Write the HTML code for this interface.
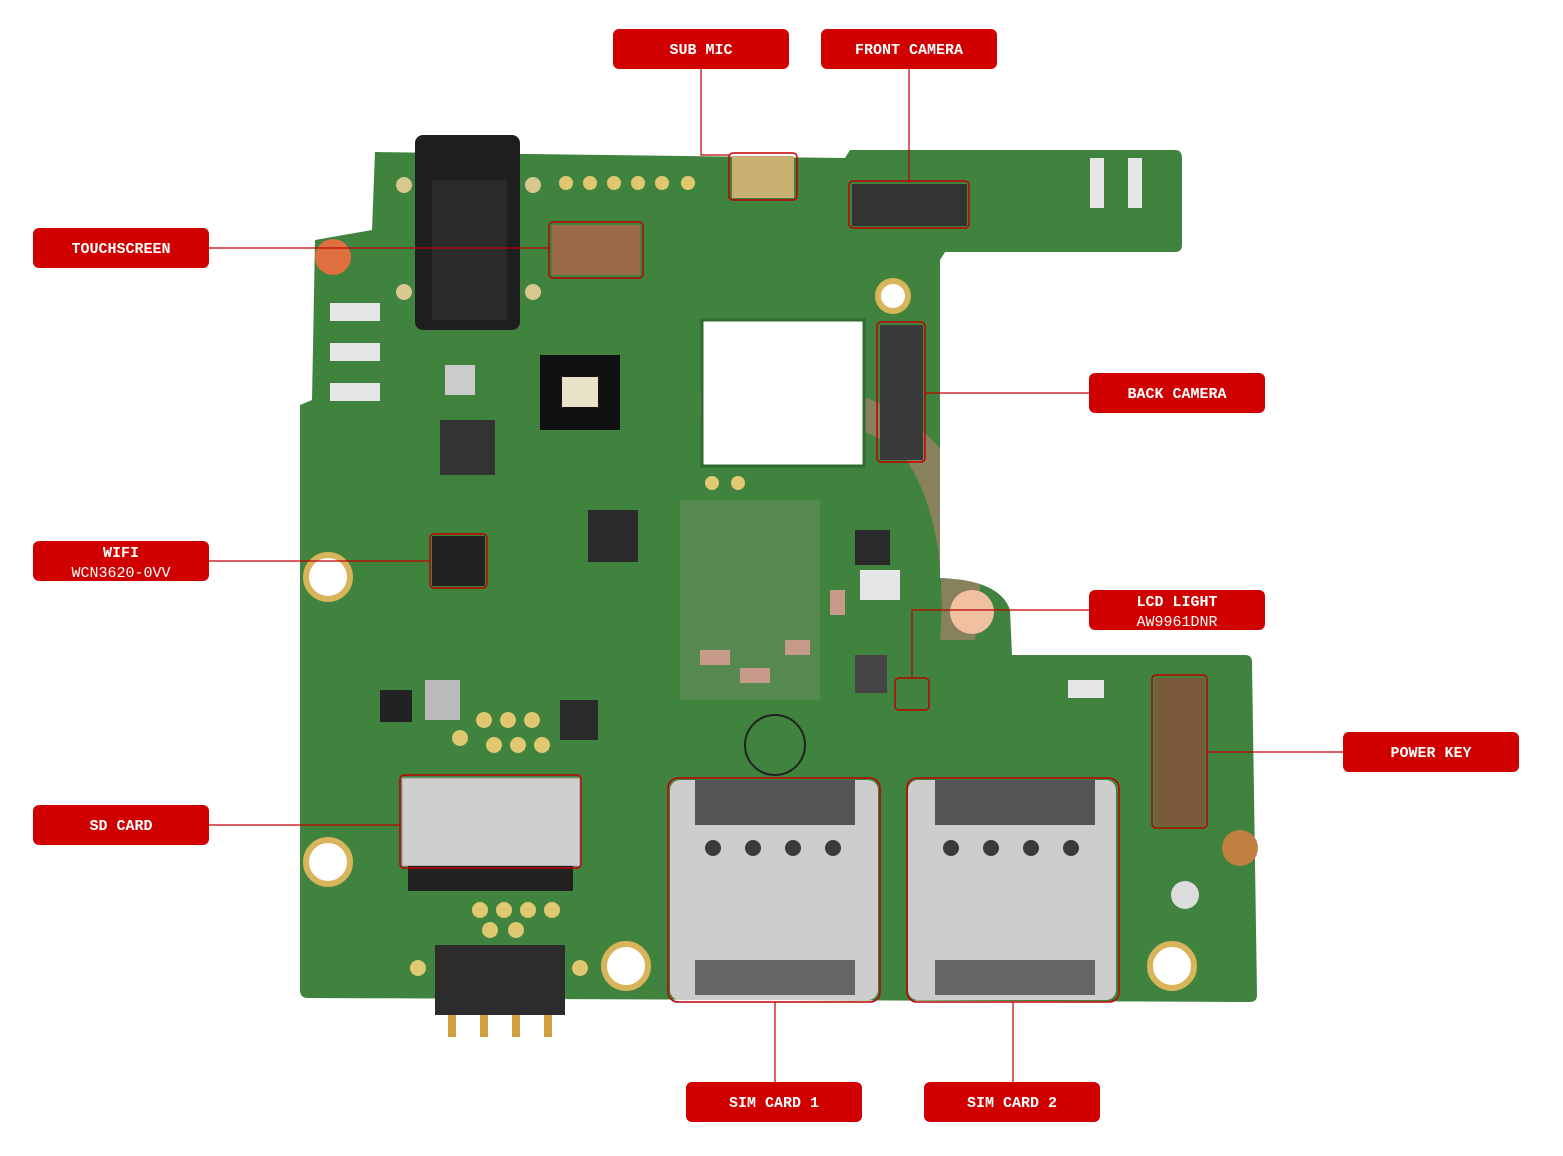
<!DOCTYPE html>
<html><head><meta charset="utf-8"><style>
html,body{margin:0;padding:0;background:#fff;}
svg{display:block;}
.lb{font-family:"Liberation Mono","DejaVu Sans Mono",monospace;font-weight:bold;font-size:15px;fill:#fff;text-anchor:middle;}
</style></head><body>
<svg width="1563" height="1156" viewBox="0 0 1563 1156" xmlns="http://www.w3.org/2000/svg">
<defs><clipPath id="bc"><path id="bp" d="M375,152 L845,158 L850,150 L1175,150 Q1182,150 1182,158 L1182,245 Q1182,252 1175,252 L945,252 L940,260 L940,578 Q1000,580 1010,610 L1012,655 L1245,655 Q1252,655 1252,662 L1257,995 Q1257,1002 1250,1002 L308,998 Q300,998 300,990 L300,405 L312,400 L315,240 L372,230 Z"/></clipPath></defs>
<!-- board -->
<path d="M375,152 L845,158 L850,150 L1175,150 Q1182,150 1182,158 L1182,245 Q1182,252 1175,252 L945,252 L940,260 L940,578 Q1000,580 1010,610 L1012,655 L1245,655 Q1252,655 1252,662 L1257,995 Q1257,1002 1250,1002 L308,998 Q300,998 300,990 L300,405 L312,400 L315,240 L372,230 Z" fill="#3f833f"/>
<!-- watermark -->
<path clip-path="url(#bc)" d="M700,390 Q900,360 960,480 Q990,560 975,640 L940,640 Q950,520 900,450 Q820,400 700,420Z" fill="#e08080" opacity=".45"/>
<!-- camera hole -->
<rect x="702" y="320" width="162" height="146" fill="#fff" stroke="#2f6a30" stroke-width="3"/>
<!-- headphone jack -->
<rect x="415" y="135" width="105" height="195" rx="8" fill="#1e1e1e"/>
<rect x="432" y="180" width="75" height="140" fill="#2b2b2b"/>
<g fill="#d8c890"><circle cx="404" cy="185" r="8"/><circle cx="404" cy="292" r="8"/><circle cx="533" cy="185" r="8"/><circle cx="533" cy="292" r="8"/></g>
<g fill="#e0c870"><circle cx="566" cy="183" r="7"/><circle cx="590" cy="183" r="7"/><circle cx="614" cy="183" r="7"/><circle cx="638" cy="183" r="7"/><circle cx="662" cy="183" r="7"/><circle cx="688" cy="183" r="7"/>
<circle cx="712" cy="483" r="7"/><circle cx="738" cy="483" r="7"/>
<circle cx="484" cy="720" r="8"/><circle cx="508" cy="720" r="8"/><circle cx="532" cy="720" r="8"/><circle cx="460" cy="738" r="8"/><circle cx="494" cy="745" r="8"/><circle cx="518" cy="745" r="8"/><circle cx="542" cy="745" r="8"/>
<circle cx="480" cy="910" r="8"/><circle cx="504" cy="910" r="8"/><circle cx="528" cy="910" r="8"/><circle cx="552" cy="910" r="8"/><circle cx="490" cy="930" r="8"/><circle cx="516" cy="930" r="8"/>
<circle cx="418" cy="968" r="8"/><circle cx="580" cy="968" r="8"/></g>
<!-- small white pads -->
<g fill="#e6e6e6"><rect x="330" y="303" width="50" height="18"/><rect x="330" y="343" width="50" height="18"/><rect x="330" y="383" width="50" height="18"/>
<rect x="1090" y="158" width="14" height="50"/><rect x="1128" y="158" width="14" height="50"/>
<rect x="860" y="570" width="40" height="30"/><rect x="1068" y="680" width="36" height="18"/></g>
<!-- flash -->
<rect x="540" y="355" width="80" height="75" fill="#111"/>
<rect x="562" y="377" width="36" height="30" fill="#e8e2c8"/>
<!-- chips -->
<rect x="440" y="420" width="55" height="55" fill="#333"/>
<rect x="588" y="510" width="50" height="52" fill="#2a2a2a"/>
<rect x="432" y="536" width="53" height="50" fill="#222"/>
<rect x="855" y="530" width="35" height="35" fill="#2a2a2a"/>
<rect x="855" y="655" width="32" height="38" fill="#444"/>
<rect x="560" y="700" width="38" height="40" fill="#2a2a2a"/>
<rect x="380" y="690" width="32" height="32" fill="#222"/>
<rect x="425" y="680" width="35" height="40" fill="#bbb"/>
<rect x="445" y="365" width="30" height="30" fill="#ccc"/>
<rect x="680" y="500" width="140" height="200" fill="#6d9060" opacity=".5"/>
<g fill="#c89a8a"><rect x="700" y="650" width="30" height="15"/><rect x="740" y="668" width="30" height="15"/><rect x="785" y="640" width="25" height="15"/><rect x="830" y="590" width="15" height="25"/></g>
<!-- connectors -->
<rect x="852" y="184" width="115" height="42" fill="#333"/>
<rect x="880" y="325" width="43" height="135" fill="#3a3a3a"/>
<rect x="552" y="225" width="88" height="50" fill="#9a6a4a"/>
<rect x="1155" y="678" width="50" height="148" fill="#7a5a3a"/>
<rect x="732" y="156" width="62" height="42" fill="#c8b070"/>
<!-- SD card -->
<rect x="402" y="778" width="178" height="88" fill="#cfcfcf" stroke="#999"/>
<rect x="408" y="866" width="165" height="25" fill="#222"/>
<!-- SIM trays -->
<rect x="670" y="780" width="208" height="220" rx="10" fill="#cdcdcd"/>
<rect x="908" y="780" width="208" height="220" rx="10" fill="#cdcdcd"/>
<rect x="695" y="780" width="160" height="45" fill="#555"/>
<rect x="935" y="780" width="160" height="45" fill="#555"/>
<rect x="695" y="960" width="160" height="35" fill="#666"/>
<rect x="935" y="960" width="160" height="35" fill="#666"/>
<g fill="#3a3a3a"><circle cx="713" cy="848" r="8"/><circle cx="753" cy="848" r="8"/><circle cx="793" cy="848" r="8"/><circle cx="833" cy="848" r="8"/>
<circle cx="951" cy="848" r="8"/><circle cx="991" cy="848" r="8"/><circle cx="1031" cy="848" r="8"/><circle cx="1071" cy="848" r="8"/></g>
<circle cx="775" cy="745" r="30" fill="none" stroke="#222" stroke-width="2"/>
<!-- battery connector -->
<rect x="435" y="945" width="130" height="70" fill="#2c2c2c"/>
<g fill="#d0a040"><rect x="448" y="1015" width="8" height="22"/><rect x="480" y="1015" width="8" height="22"/><rect x="512" y="1015" width="8" height="22"/><rect x="544" y="1015" width="8" height="22"/></g>
<!-- holes -->
<g fill="#fff" stroke="#d8b45a" stroke-width="6">
<circle cx="328" cy="577" r="22"/><circle cx="328" cy="862" r="22"/>
<circle cx="626" cy="966" r="22"/><circle cx="1172" cy="966" r="22"/>
<circle cx="893" cy="296" r="15"/>
</g>
<circle cx="1185" cy="895" r="14" fill="#ddd"/>
<circle cx="333" cy="257" r="18" fill="#e07040"/>
<circle cx="972" cy="612" r="22" fill="#f0c0a0"/>
<circle cx="1240" cy="848" r="18" fill="#c08040"/>
<!-- outlines -->
<g fill="none" stroke="#c00000" stroke-width="1.5">
<rect x="729" y="153" width="68" height="47" rx="4"/>
<rect x="849" y="181" width="120" height="47" rx="4"/>
<rect x="549" y="222" width="94" height="56" rx="4"/>
<rect x="877" y="322" width="48" height="140" rx="4"/>
<rect x="430" y="534" width="57" height="54" rx="4"/>
<rect x="895" y="678" width="34" height="32" rx="4"/>
<rect x="1152" y="675" width="55" height="153" rx="4"/>
<rect x="400" y="775" width="181" height="93" rx="4"/>
<rect x="668" y="778" width="212" height="224" rx="10"/>
<rect x="907" y="778" width="212" height="224" rx="10"/>
</g>
<!-- leader lines -->
<g stroke="#c00000" stroke-width="1.2" fill="none">
<path d="M701,69 V155 H729"/>
<path d="M909,69 V183"/>
<path d="M209,248 H550"/>
<path d="M925,393 H1089"/>
<path d="M209,561 H430"/>
<path d="M1089,610 H912 V678"/>
<path d="M1207,752 H1343"/>
<path d="M209,825 H400"/>
<path d="M775,1002 V1082"/>
<path d="M1013,1002 V1082"/>
</g>
<!-- labels -->
<g fill="#d00000">
<rect x="613" y="29" width="176" height="40" rx="6"/>
<rect x="821" y="29" width="176" height="40" rx="6"/>
<rect x="33" y="228" width="176" height="40" rx="6"/>
<rect x="1089" y="373" width="176" height="40" rx="6"/>
<rect x="33" y="541" width="176" height="40" rx="6"/>
<rect x="1089" y="590" width="176" height="40" rx="6"/>
<rect x="1343" y="732" width="176" height="40" rx="6"/>
<rect x="33" y="805" width="176" height="40" rx="6"/>
<rect x="686" y="1082" width="176" height="40" rx="6"/>
<rect x="924" y="1082" width="176" height="40" rx="6"/>
</g>
<text class="lb" x="701" y="54">SUB MIC</text>
<text class="lb" x="909" y="54">FRONT CAMERA</text>
<text class="lb" x="121" y="253">TOUCHSCREEN</text>
<text class="lb" x="1177" y="398">BACK CAMERA</text>
<text class="lb" x="121" y="557">WIFI</text>
<text class="lb" x="121" y="577" style="font-weight:normal">WCN3620-0VV</text>
<text class="lb" x="1177" y="606">LCD LIGHT</text>
<text class="lb" x="1177" y="626" style="font-weight:normal">AW9961DNR</text>
<text class="lb" x="1431" y="757">POWER KEY</text>
<text class="lb" x="121" y="830">SD CARD</text>
<text class="lb" x="774" y="1107">SIM CARD 1</text>
<text class="lb" x="1012" y="1107">SIM CARD 2</text>
</svg>
</body></html>
